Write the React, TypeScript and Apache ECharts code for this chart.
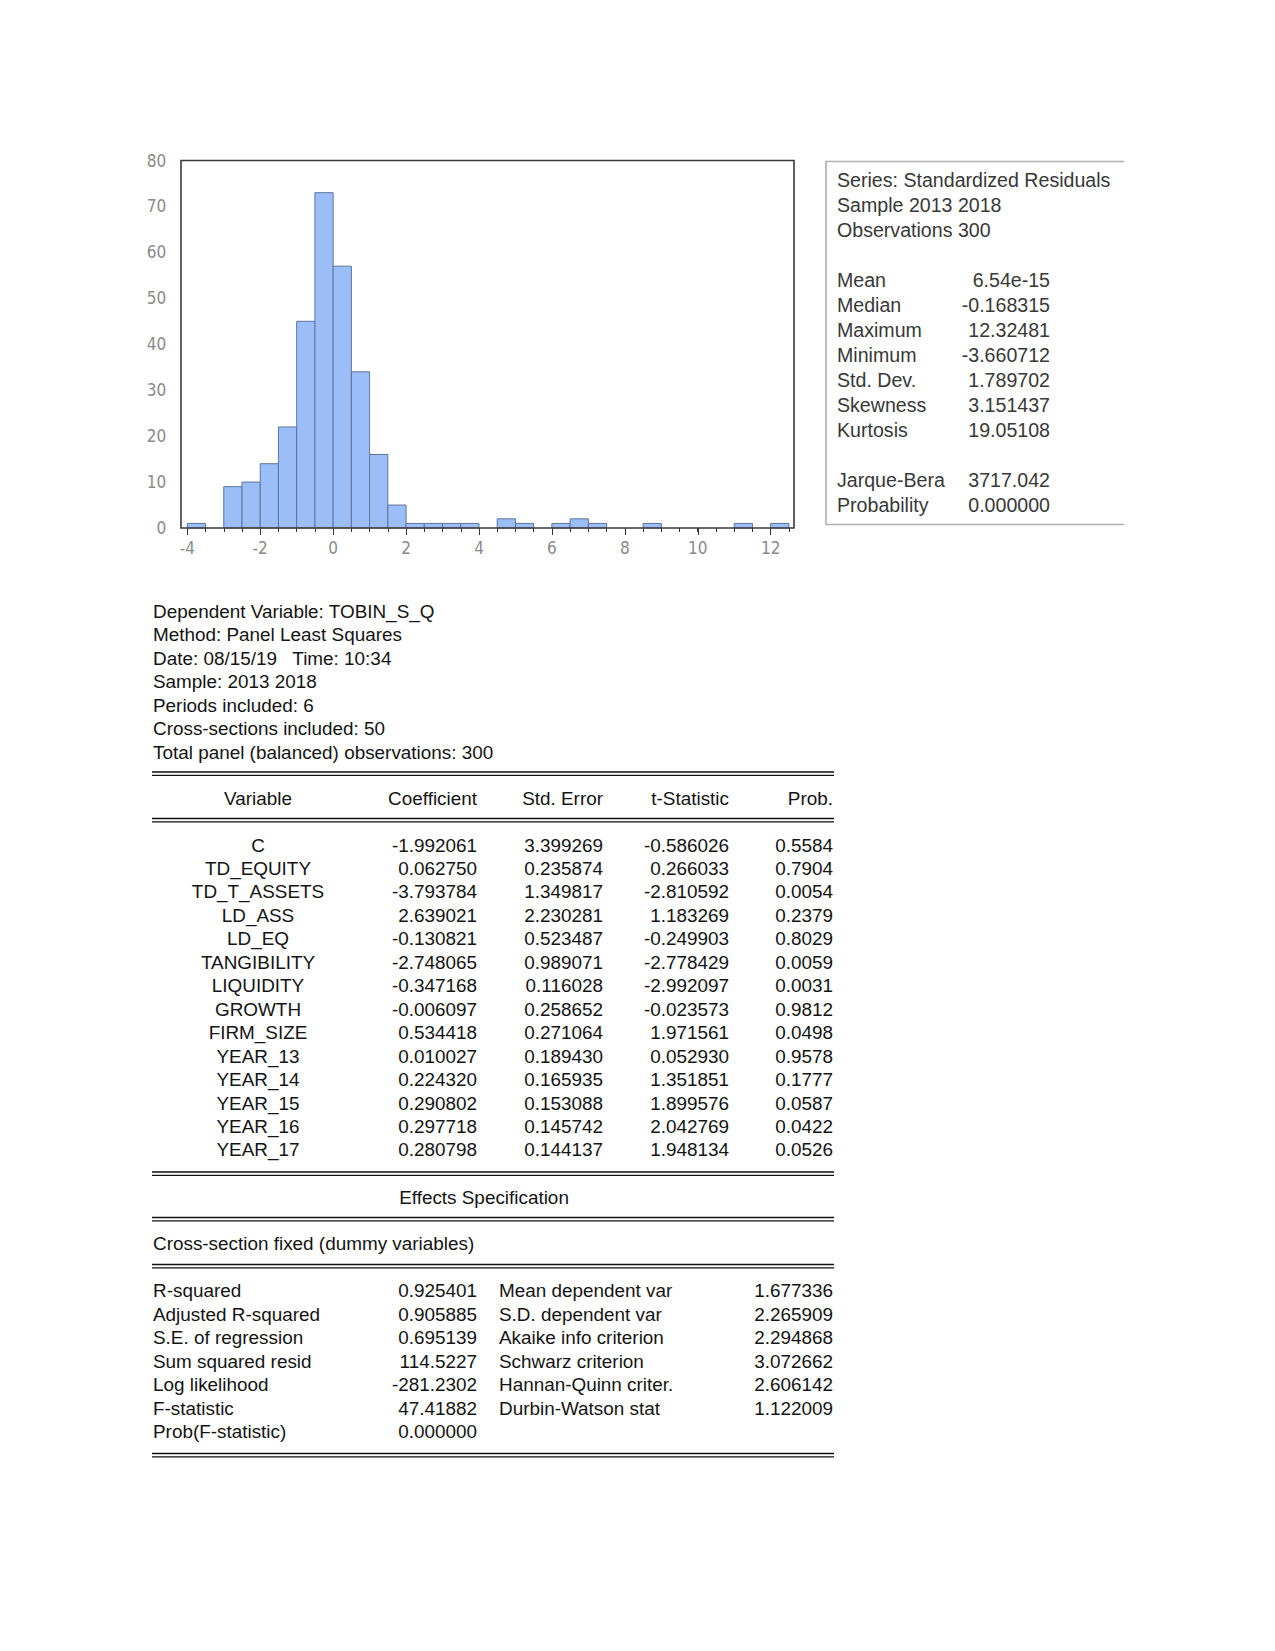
import React, { useEffect, useRef } from "react";
import * as echarts from "echarts";

// ---------------- Histogram data (standardized residuals) ----------------
const binWidth = 0.5;
const binStarts = [-4, -3, -2.5, -2, -1.5, -1, -0.5, 0, 0.5, 1, 1.5, 2, 2.5, 3, 3.5, 4.5, 5, 6, 6.5, 7, 8.5, 11, 12];
const binCounts = [1, 9, 10, 14, 22, 45, 73, 57, 34, 16, 5, 1, 1, 1, 1, 2, 1, 1, 2, 1, 1, 1, 1];

// ---------------- Statistics box ----------------
const statsHeader = ["Series: Standardized Residuals", "Sample 2013 2018", "Observations 300"];
const statsLabels = ["Mean", "Median", "Maximum", "Minimum", "Std. Dev.", "Skewness", "Kurtosis"];
const statsValues = ["6.54e-15", "-0.168315", "12.32481", "-3.660712", "1.789702", "3.151437", "19.05108"];
const testLabels = ["Jarque-Bera", "Probability"];
const testValues = ["3717.042", "0.000000"];

// ---------------- Regression output ----------------
const headerLines = [
  "Dependent Variable: TOBIN_S_Q",
  "Method: Panel Least Squares",
  "Date: 08/15/19   Time: 10:34",
  "Sample: 2013 2018",
  "Periods included: 6",
  "Cross-sections included: 50",
  "Total panel (balanced) observations: 300",
];
const columnHeaders = ["Variable", "Coefficient", "Std. Error", "t-Statistic", "Prob."];
const variables = ["C", "TD_EQUITY", "TD_T_ASSETS", "LD_ASS", "LD_EQ", "TANGIBILITY", "LIQUIDITY", "GROWTH", "FIRM_SIZE", "YEAR_13", "YEAR_14", "YEAR_15", "YEAR_16", "YEAR_17"];
const coefficients = ["-1.992061", "0.062750", "-3.793784", "2.639021", "-0.130821", "-2.748065", "-0.347168", "-0.006097", "0.534418", "0.010027", "0.224320", "0.290802", "0.297718", "0.280798"];
const stdErrors = ["3.399269", "0.235874", "1.349817", "2.230281", "0.523487", "0.989071", "0.116028", "0.258652", "0.271064", "0.189430", "0.165935", "0.153088", "0.145742", "0.144137"];
const tStats = ["-0.586026", "0.266033", "-2.810592", "1.183269", "-0.249903", "-2.778429", "-2.992097", "-0.023573", "1.971561", "0.052930", "1.351851", "1.899576", "2.042769", "1.948134"];
const probs = ["0.5584", "0.7904", "0.0054", "0.2379", "0.8029", "0.0059", "0.0031", "0.9812", "0.0498", "0.9578", "0.1777", "0.0587", "0.0422", "0.0526"];
const effectsTitle = "Effects Specification";
const effectsLine = "Cross-section fixed (dummy variables)";
const summaryLabelsL = ["R-squared", "Adjusted R-squared", "S.E. of regression", "Sum squared resid", "Log likelihood", "F-statistic", "Prob(F-statistic)"];
const summaryValuesL = ["0.925401", "0.905885", "0.695139", "114.5227", "-281.2302", "47.41882", "0.000000"];
const summaryLabelsR = ["Mean dependent var", "S.D. dependent var", "Akaike info criterion", "Schwarz criterion", "Hannan-Quinn criter.", "Durbin-Watson stat"];
const summaryValuesR = ["1.677336", "2.265909", "2.294868", "3.072662", "2.606142", "1.122009"];

const TABLE_FONT = "18.9px 'Liberation Sans', Arial, sans-serif";
const STATS_FONT = "19.6px 'Liberation Sans', Arial, sans-serif";
const TABLE_COLOR = "#141414";
const STATS_COLOR = "#383838";
const AXIS_FONT_FAMILY = "'Liberation Sans Narrow', 'DejaVu Sans Condensed', 'Liberation Sans', sans-serif";

function txt(text: string, x: number, y: number, align: string, font: string, fill: string) {
  return {
    type: "text",
    x,
    y,
    z: 20,
    silent: true,
    style: {
      text,
      font,
      fill,
      textAlign: align,
      textVerticalAlign: "middle",
      align,
      verticalAlign: "middle",
    },
  };
}

function hline(x1: number, x2: number, y: number) {
  return {
    type: "line",
    z: 20,
    silent: true,
    shape: { x1, y1: y, x2, y2: y },
    style: { stroke: "#111", lineWidth: 1.3 },
  };
}

function doubleLine(y: number) {
  return [hline(152, 834, y), hline(152, 834, y + 3.4)];
}

function buildGraphics() {
  const els: any[] = [];
  // histogram frame
  els.push({
    type: "rect",
    z: 15,
    silent: true,
    shape: { x: 181, y: 160.5, width: 613, height: 367.5 },
    style: { fill: "none", stroke: "#3a3a3a", lineWidth: 1.6 },
  });
  // stats box border (open on the right)
  els.push({
    type: "polyline",
    z: 15,
    silent: true,
    shape: { points: [[1124, 161.5], [826, 161.5], [826, 524.5], [1124, 524.5]] },
    style: { fill: "none", stroke: "#b0b0b0", lineWidth: 1.6 },
  });
  const sx = 837;
  const sv = 1050;
  statsHeader.forEach((t, i) => els.push(txt(t, sx, 179.5 + i * 25, "left", STATS_FONT, STATS_COLOR)));
  statsLabels.forEach((t, i) => {
    els.push(txt(t, sx, 279.5 + i * 25, "left", STATS_FONT, STATS_COLOR));
    els.push(txt(statsValues[i], sv, 279.5 + i * 25, "right", STATS_FONT, STATS_COLOR));
  });
  testLabels.forEach((t, i) => {
    els.push(txt(t, sx, 480 + i * 25, "left", STATS_FONT, STATS_COLOR));
    els.push(txt(testValues[i], sv, 480 + i * 25, "right", STATS_FONT, STATS_COLOR));
  });

  // regression header text
  const lx = 153;
  headerLines.forEach((t, i) => els.push(txt(t, lx, 611 + i * 23.5, "left", TABLE_FONT, TABLE_COLOR)));

  // coefficient table
  els.push(...doubleLine(772));
  const colX = [258, 477, 603, 729, 833];
  const colAlign = ["center", "right", "right", "right", "right"];
  columnHeaders.forEach((h, i) => els.push(txt(h, colX[i], 798.5, colAlign[i], TABLE_FONT, TABLE_COLOR)));
  els.push(...doubleLine(818.5));
  variables.forEach((v, i) => {
    const y = 845 + i * 23.46;
    els.push(txt(v, colX[0], y, "center", TABLE_FONT, TABLE_COLOR));
    els.push(txt(coefficients[i], colX[1], y, "right", TABLE_FONT, TABLE_COLOR));
    els.push(txt(stdErrors[i], colX[2], y, "right", TABLE_FONT, TABLE_COLOR));
    els.push(txt(tStats[i], colX[3], y, "right", TABLE_FONT, TABLE_COLOR));
    els.push(txt(probs[i], colX[4], y, "right", TABLE_FONT, TABLE_COLOR));
  });
  els.push(...doubleLine(1172));
  els.push(txt(effectsTitle, 484, 1197, "center", TABLE_FONT, TABLE_COLOR));
  els.push(...doubleLine(1217.5));
  els.push(txt(effectsLine, lx, 1243.5, "left", TABLE_FONT, TABLE_COLOR));
  els.push(...doubleLine(1264.5));
  summaryLabelsL.forEach((t, i) => {
    const y = 1290.5 + i * 23.5;
    els.push(txt(t, lx, y, "left", TABLE_FONT, TABLE_COLOR));
    els.push(txt(summaryValuesL[i], 477, y, "right", TABLE_FONT, TABLE_COLOR));
  });
  summaryLabelsR.forEach((t, i) => {
    const y = 1290.5 + i * 23.5;
    els.push(txt(t, 499, y, "left", TABLE_FONT, TABLE_COLOR));
    els.push(txt(summaryValuesR[i], 833, y, "right", TABLE_FONT, TABLE_COLOR));
  });
  els.push(...doubleLine(1453.5));
  return els;
}

export default function App() {
  const ref = useRef<HTMLDivElement>(null);
  useEffect(() => {
    if (!ref.current) return;
    const chart = echarts.init(ref.current, undefined, { renderer: "svg" });
    const histData = binStarts.map((s, i) => [s, s + binWidth, binCounts[i]]);
    const axisLabelStyle = {
      color: "#8a8a8a",
      fontSize: 17,
      fontFamily: AXIS_FONT_FAMILY,
    };
    const option: any = {
      animation: false,
      backgroundColor: "#ffffff",
      grid: [
        { left: 187.3, top: 160.5, width: 601.6, height: 367.5, containLabel: false, outerBoundsMode: "none" },
        { left: 187.3, top: 160.5, width: 583.4, height: 367.5, containLabel: false, outerBoundsMode: "none" },
      ],
      xAxis: [
        {
          type: "value",
          gridIndex: 0,
          min: -4,
          max: 12.5,
          interval: 0.5,
          axisLine: { show: false },
          axisTick: { show: true, length: 4, lineStyle: { color: "#333", width: 1 } },
          axisLabel: { show: false },
          splitLine: { show: false },
        },
        {
          type: "value",
          gridIndex: 1,
          min: -4,
          max: 12,
          interval: 2,
          axisLine: { show: false },
          axisTick: { show: true, length: 7, lineStyle: { color: "#333", width: 1 } },
          axisLabel: { show: true, margin: 11, ...axisLabelStyle },
          splitLine: { show: false },
        },
      ],
      yAxis: [
        {
          type: "value",
          gridIndex: 0,
          min: 0,
          max: 80,
          interval: 10,
          axisLine: { show: false },
          axisTick: { show: false },
          axisLabel: { show: true, margin: 21, ...axisLabelStyle },
          splitLine: { show: false },
        },
        {
          type: "value",
          gridIndex: 1,
          min: 0,
          max: 80,
          show: false,
          splitLine: { show: false },
        },
      ],
      series: [
        {
          type: "custom",
          xAxisIndex: 0,
          yAxisIndex: 0,
          data: histData,
          encode: { x: [0, 1], y: 2 },
          renderItem: (params: any, api: any) => {
            const p0 = api.coord([api.value(0), api.value(2)]);
            const p1 = api.coord([api.value(1), 0]);
            return {
              type: "rect",
              shape: { x: p0[0], y: p0[1], width: p1[0] - p0[0], height: p1[1] - p0[1] },
              style: { fill: "#9bbdf8", stroke: "#5f7598", lineWidth: 1 },
            };
          },
        },
      ],
      graphic: { elements: buildGraphics() },
    };
    chart.setOption(option);
    return () => chart.dispose();
  }, []);
  return (
    <div
      ref={ref}
      style={{ position: "absolute", left: 0, top: 0, width: 1275, height: 1651, background: "#fff" }}
    />
  );
}
